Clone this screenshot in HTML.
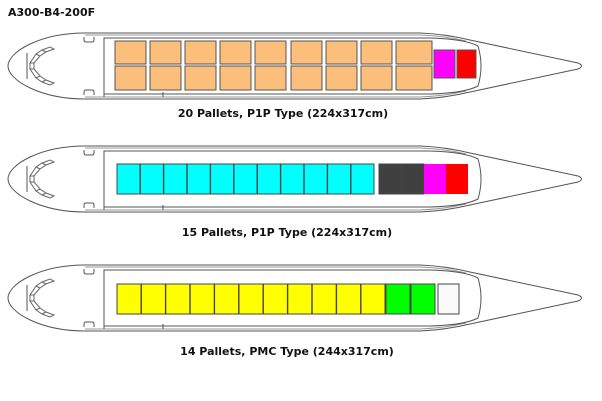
<!DOCTYPE html>
<html><head><style>
html,body{margin:0;padding:0;background:#fff;}
svg{display:block;}
text{font-family:"DejaVu Sans","Liberation Sans",sans-serif;font-weight:bold;fill:#111;}
</style></head><body>
<svg width="602" height="401" viewBox="0 0 602 401" xmlns="http://www.w3.org/2000/svg">
<defs>
<g id="fus" fill="none" stroke="#555" stroke-width="1">
  <path d="M85,-33 L420,-33 Q445,-32 470,-26 L578,-3 Q585,0 578,3 L470,26 Q445,32 420,33 L85,33 C40,33 8,14 8,0 C8,-14 40,-33 85,-33 Z" fill="#fff"/>
  <path d="M85,-31 L420,-31 Q445,-30 466,-25" stroke="#999"/>
  <path d="M85,31 L420,31 Q445,30 466,25" stroke="#999"/>
  <path d="M104,-28 L430,-28 Q465,-27 478,-20 Q484,0 478,20 Q465,27 430,28 L104,28 Z" fill="#fff"/>
  <line x1="104" y1="26" x2="104" y2="31" />
  <line x1="163" y1="26" x2="163" y2="31" />
  <path d="M27,-13 L27,13" />
  <path d="M84,-29 L84,-26 Q84,-24 86,-24 L92,-24 Q94,-24 94,-26 L94,-29" />
  <path d="M84,29 L84,26 Q84,24 86,24 L92,24 Q94,24 94,26 L94,29" />
  <path d="M30,-3 L36,-12 L42,-16 L50,-19 L54,-17 L46,-14 L40,-10 L34,-3 Z" stroke="#666"/>
  <path d="M30,3 L36,12 L42,16 L50,19 L54,17 L46,14 L40,10 L34,3 Z" stroke="#666"/>
  <path d="M30,-3 L30,3 M34,-3 L34,3 M36,-12 L40,-10 M42,-16 L46,-14 M36,12 L40,10 M42,16 L46,14" stroke="#666"/>
</g>
</defs>
<text x="8" y="16" font-size="11">A300-B4-200F</text>

<use href="#fus" transform="translate(0,66)"/>
<g stroke="#555" stroke-width="1">
<g fill="#fbbf7b">
<rect x="115" y="41" width="31" height="23"/><rect x="150" y="41" width="31" height="23"/><rect x="185" y="41" width="31" height="23"/><rect x="220" y="41" width="31" height="23"/><rect x="255" y="41" width="31" height="23"/><rect x="291" y="41" width="31" height="23"/><rect x="326" y="41" width="31" height="23"/><rect x="361" y="41" width="31" height="23"/><rect x="396" y="41" width="36" height="23"/>
<rect x="115" y="66" width="31" height="24"/><rect x="150" y="66" width="31" height="24"/><rect x="185" y="66" width="31" height="24"/><rect x="220" y="66" width="31" height="24"/><rect x="255" y="66" width="31" height="24"/><rect x="291" y="66" width="31" height="24"/><rect x="326" y="66" width="31" height="24"/><rect x="361" y="66" width="31" height="24"/><rect x="396" y="66" width="36" height="24"/>
</g>
<rect x="434" y="50" width="21" height="28" fill="#ff00ff"/>
<rect x="457" y="50" width="19" height="28" fill="#ff0000"/>
</g>
<text x="283" y="117" font-size="11" text-anchor="middle">20 Pallets, P1P Type (224x317cm)</text>

<use href="#fus" transform="translate(0,179)"/>
<g stroke="#444" stroke-width="1">
<g fill="#00ffff">
<rect x="117" y="164" width="23" height="30"/><rect x="140.4" y="164" width="23" height="30"/><rect x="163.8" y="164" width="23" height="30"/><rect x="187.2" y="164" width="23" height="30"/><rect x="210.6" y="164" width="23" height="30"/><rect x="234" y="164" width="23" height="30"/><rect x="257.4" y="164" width="23" height="30"/><rect x="280.8" y="164" width="23" height="30"/><rect x="304.2" y="164" width="23" height="30"/><rect x="327.6" y="164" width="23" height="30"/><rect x="351" y="164" width="23" height="30"/>
</g>
<rect x="379" y="164" width="22" height="30" fill="#404040"/>
<rect x="402" y="164" width="22" height="30" fill="#404040"/>
<rect x="424" y="164" width="22" height="30" fill="#ff00ff" stroke="none"/>
<rect x="446" y="164" width="22" height="30" fill="#ff0000" stroke="none"/>
</g>
<text x="287" y="236" font-size="11" text-anchor="middle">15 Pallets, P1P Type (224x317cm)</text>

<use href="#fus" transform="translate(0,298)"/>
<g stroke="#444" stroke-width="1">
<g fill="#ffff00">
<rect x="117" y="284" width="24" height="30"/><rect x="141.4" y="284" width="24" height="30"/><rect x="165.8" y="284" width="24" height="30"/><rect x="190.2" y="284" width="24" height="30"/><rect x="214.6" y="284" width="24" height="30"/><rect x="239" y="284" width="24" height="30"/><rect x="263.4" y="284" width="24" height="30"/><rect x="287.8" y="284" width="24" height="30"/><rect x="312.2" y="284" width="24" height="30"/><rect x="336.6" y="284" width="24" height="30"/><rect x="361" y="284" width="24" height="30"/>
</g>
<rect x="386" y="284" width="24" height="30" fill="#00ff00"/>
<rect x="411" y="284" width="24" height="30" fill="#00ff00"/>
<rect x="438" y="284" width="21" height="30" fill="#fafafa"/>
</g>
<text x="287" y="355" font-size="11" text-anchor="middle">14 Pallets, PMC Type (244x317cm)</text>
</svg>
</body></html>
